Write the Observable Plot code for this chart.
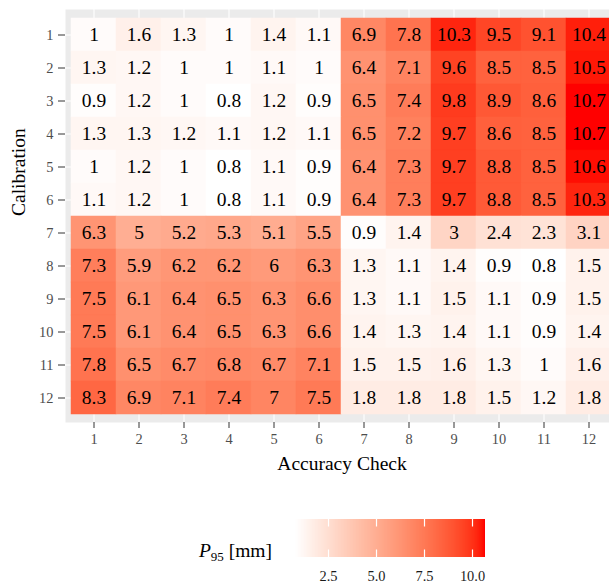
<!DOCTYPE html>
<html><head><meta charset="utf-8">
<script src="https://cdn.jsdelivr.net/npm/d3@7"></script>
<script src="https://cdn.jsdelivr.net/npm/@observablehq/plot@0.6"></script>
<style>
html,body{margin:0;padding:0;background:#fff;overflow:hidden;}
#wrap{position:relative;width:609px;height:583px;overflow:hidden;font-family:"Liberation Serif",serif;}
#wrap svg, #wrap svg text{font-family:"Liberation Serif",serif !important;}
#legend{position:absolute;left:295px;top:519px;}
#legend .tick line{stroke:#fff !important;stroke-width:1.2;stroke-dasharray:7.6 22.8 7.6 40;}
#ltitle{position:absolute;right:337px;top:538px;font-size:19.5px;line-height:26px;color:#000;white-space:nowrap;}
#ltitle sub{font-size:13px;vertical-align:-4px;line-height:0;}
</style></head><body><div id="wrap"><div id="legend"></div><div id="ltitle"><i>P</i><sub>95</sub> [mm]</div></div>
<script>
const calibration = [1, 2, 3, 4, 5, 6, 7, 8, 9, 10, 11, 12];
const accuracyCheck = [1, 2, 3, 4, 5, 6, 7, 8, 9, 10, 11, 12];
// rows = Calibration, columns = Accuracy Check
const p95 = [
  [1, 1.6, 1.3, 1, 1.4, 1.1, 6.9, 7.8, 10.3, 9.5, 9.1, 10.4],
  [1.3, 1.2, 1, 1, 1.1, 1, 6.4, 7.1, 9.6, 8.5, 8.5, 10.5],
  [0.9, 1.2, 1, 0.8, 1.2, 0.9, 6.5, 7.4, 9.8, 8.9, 8.6, 10.7],
  [1.3, 1.3, 1.2, 1.1, 1.2, 1.1, 6.5, 7.2, 9.7, 8.6, 8.5, 10.7],
  [1, 1.2, 1, 0.8, 1.1, 0.9, 6.4, 7.3, 9.7, 8.8, 8.5, 10.6],
  [1.1, 1.2, 1, 0.8, 1.1, 0.9, 6.4, 7.3, 9.7, 8.8, 8.5, 10.3],
  [6.3, 5, 5.2, 5.3, 5.1, 5.5, 0.9, 1.4, 3, 2.4, 2.3, 3.1],
  [7.3, 5.9, 6.2, 6.2, 6, 6.3, 1.3, 1.1, 1.4, 0.9, 0.8, 1.5],
  [7.5, 6.1, 6.4, 6.5, 6.3, 6.6, 1.3, 1.1, 1.5, 1.1, 0.9, 1.5],
  [7.5, 6.1, 6.4, 6.5, 6.3, 6.6, 1.4, 1.3, 1.4, 1.1, 0.9, 1.4],
  [7.8, 6.5, 6.7, 6.8, 6.7, 7.1, 1.5, 1.5, 1.6, 1.3, 1, 1.6],
  [8.3, 6.9, 7.1, 7.4, 7, 7.5, 1.8, 1.8, 1.8, 1.5, 1.2, 1.8]
];
const legendTicks = [2.5, 5, 7.5, 10];
const xTitle = "Accuracy Check";
const yTitle = "Calibration";

const FONT = "Liberation Serif";
const cells = [];
calibration.forEach((c, i) => accuracyCheck.forEach((a, j) => cells.push({cal: c, acc: a, v: p95[i][j]})));
const allVals = cells.map(d => d.v);
const colorOpts = {type: "linear", domain: [d3.min(allVals), d3.max(allVals)], range: ["white", "red"], interpolate: "lab"};

const W = 609, H = 490, panelBottom = 422;
const chart = Plot.plot({
  width: W, height: H,
  marginLeft: 65, marginRight: -9, marginTop: 9, marginBottom: H - panelBottom,
  style: {fontFamily: FONT, background: "white"},
  x: {type: "band", domain: accuracyCheck, range: [69.4, 613], padding: 0},
  y: {type: "band", domain: calibration, range: [12.4, 418.6], padding: 0},
  color: colorOpts,
  marks: [
    Plot.frame({fill: "#EBEBEB", stroke: "none"}),
    Plot.gridX({stroke: "white", strokeOpacity: 1, strokeWidth: 1.1}),
    Plot.gridY({stroke: "white", strokeOpacity: 1, strokeWidth: 1.1}),
    Plot.cell(cells, {x: "acc", y: "cal", fill: "v", stroke: "v", strokeWidth: 0.5, inset: 0}),
    Plot.text(cells, {x: "acc", y: "cal", text: d => String(d.v), fontSize: 19.5, fontFamily: FONT, fill: "black"}),
    Plot.axisX({tickSize: 6, tickPadding: 5, fontSize: 14.4, fontFamily: FONT, stroke: "#333", fill: "#4D4D4D", label: null}),
    Plot.axisY({tickSize: 7, tickPadding: 5, fontSize: 14.4, fontFamily: FONT, stroke: "#333", fill: "#4D4D4D", label: null}),
    Plot.text([xTitle], {frameAnchor: "bottom", dy: 47, fontSize: 19.5, fontFamily: FONT, fill: "black"}),
    Plot.text([yTitle], {frameAnchor: "left", dx: -47, rotate: -90, fontSize: 19.5, fontFamily: FONT, fill: "black"})
  ]
});
const wrap = document.getElementById("wrap");
wrap.insertBefore(chart, wrap.firstChild);

const barH = 38;
const legend = Plot.legend({
  color: colorOpts,
  width: 190, height: 64, marginTop: 0, marginBottom: 64 - barH, marginLeft: 0, marginRight: 0,
  ticks: legendTicks, tickSize: 11, tickFormat: d => d.toFixed(1), label: null,
  style: {fontSize: "14.4px", fontFamily: FONT, color: "#1a1a1a", overflow: "visible"}
});
// colourbar ticks drawn inside the bar (ggplot style)
d3.select(legend).selectAll(".tick line").attr("y1", -barH).attr("y2", 0);
document.getElementById("legend").appendChild(legend);
</script>
</body></html>
